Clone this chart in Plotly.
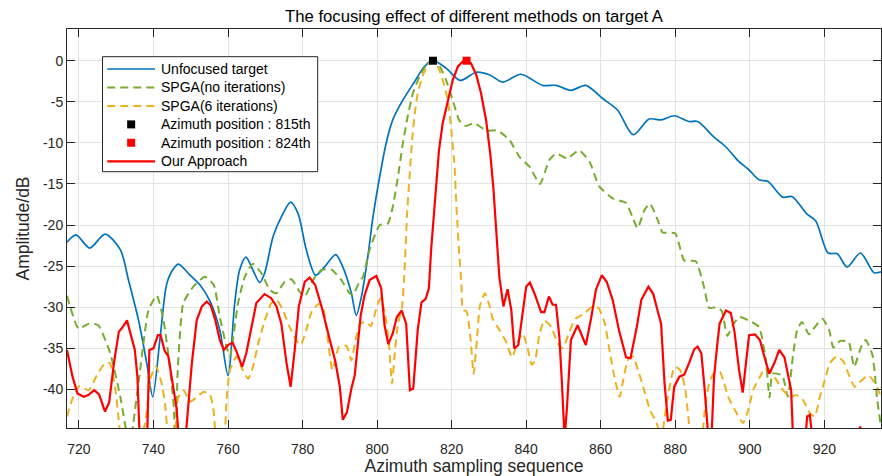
import plotly.graph_objects as go

# ---- data -------------------------------------------------------------
unfocused_x = [716.8, 719.2, 722.9, 727.0, 731.1, 733.3, 736.0, 738.2, 739.8, 741.8,
               743.6, 745.4, 746.7, 749.8, 752.5, 755.2, 757.8, 760.0, 761.8, 763.1,
               764.8, 766.7, 768.5, 769.8, 772.1, 774.3, 776.8, 778.8, 781.0, 783.5,
               785.9, 788.9, 790.8, 793.1, 794.4, 795.8, 797.5, 798.9, 800.7, 802.4,
               804.2, 806.9, 810.0, 812.7, 815.0, 818.5, 822.3, 826.6, 830.1, 833.7,
               838.6, 844.4, 848.0, 852.0, 856.0, 860.5, 864.5, 868.7, 873.0, 876.2,
               879.7, 883.7, 886.0, 890.4, 893.6, 896.9, 899.8, 902.5, 904.9, 908.8,
               911.4, 915.2, 917.7, 921.0, 923.5, 926.1, 929.7, 933.3, 935.2]
unfocused_db = [-22.1, -21.2, -22.8, -21.1, -23.0, -26.7, -31.6, -36.8, -40.9, -33.6,
                -27.1, -25.3, -24.75, -26.1, -27.3, -29.3, -32.8, -38.3, -29.5, -25.5,
                -23.9, -25.5, -27.0, -25.9, -21.4, -19.0, -17.2, -18.6, -23.0, -26.1,
                -25.1, -23.6, -25.1, -28.3, -31.0, -28.7, -23.9, -19.0, -14.1, -10.1,
                -7.2, -4.8, -2.6, -0.7, 0.0, -0.9, -2.4, -1.4, -1.7, -2.6,
                -1.65, -3.0, -3.0, -3.6, -3.0, -4.6, -6.0, -9.0, -7.1, -7.2,
                -6.7, -7.4, -7.4, -9.3, -10.5, -12.2, -13.3, -14.5, -14.7, -16.6,
                -16.55, -18.6, -19.5, -23.4, -23.5, -25.1, -23.4, -25.8, -25.7]

spga0_x = [716.8, 719.9, 722.6, 725.2, 728.4, 731.1, 733.6, 734.6, 736.4, 738.7,
           740.9, 742.7, 744.5, 745.4, 745.9, 746.5, 748.0, 750.7, 753.8, 756.2,
           757.8, 759.6, 760.5, 762.7, 764.5, 766.7, 769.0, 771.2, 773.0, 775.2,
           777.0, 779.2, 780.6, 782.8, 785.0, 787.7, 790.4, 792.6, 793.5, 795.3,
           796.2, 798.0, 800.7, 802.9, 804.2, 805.6, 806.9, 808.2, 809.6, 811.4,
           813.6, 815.0, 816.8, 818.5, 820.3, 822.1, 823.9, 826.0, 829.3, 832.4,
           835.5, 838.2, 840.9, 843.7, 846.2, 848.0, 851.0, 854.2, 857.0, 859.6,
           863.2, 866.8, 868.5, 869.9, 871.7, 873.2, 875.3, 876.6, 880.0, 882.4,
           885.5, 887.7, 889.1, 890.9, 892.4, 894.0, 895.4, 897.2, 900.5, 902.5,
           904.3, 905.3, 906.1, 908.7, 910.2, 911.6, 912.7, 914.0, 915.9, 917.5,
           919.5, 921.3, 922.4, 924.2, 926.5, 928.0, 929.9, 931.1, 932.9, 934.2,
           935.2]
spga0_db = [-28.6, -32.6, -32.0, -32.2, -35.6, -40.9, -47.0, -44.1, -37.7, -30.3,
            -28.6, -31.6, -37.7, -41.7, -47.0, -37.7, -29.5, -27.5, -26.3, -27.3,
            -31.2, -34.8, -36.0, -29.5, -26.3, -24.7, -25.9, -27.9, -28.3, -26.9,
            -26.6, -28.1, -28.7, -26.7, -25.5, -25.4, -26.7, -28.3, -28.5, -26.9,
            -26.3, -23.0, -20.0, -19.8, -17.8, -14.1, -10.1, -6.8, -4.0, -1.9,
            -0.3, 0.0, -0.7, -2.35, -4.8, -7.3, -7.95, -7.6, -8.5, -8.5,
            -9.65, -11.7, -12.9, -15.0, -12.1, -11.3, -11.9, -10.9, -12.3, -15.3,
            -16.75, -17.3, -19.0, -20.4, -18.2, -17.4, -19.4, -20.9, -21.0, -24.3,
            -24.4, -27.5, -30.1, -30.0, -30.4, -33.5, -32.2, -31.2, -31.8, -32.4,
            -36.4, -41.0, -38.1, -38.3, -40.9, -35.8, -32.8, -31.8, -33.3, -32.4,
            -31.4, -32.8, -34.9, -34.1, -34.2, -37.25, -34.8, -34.0, -35.8, -41.3,
            -44.6]

spga6_x = [716.8, 718.3, 720.1, 722.6, 724.8, 727.0, 728.3, 729.7, 730.6, 731.5,
           734.0, 737.8, 739.3, 740.7, 742.2, 743.1, 744.2, 745.6, 746.6, 748.1,
           749.8, 751.5, 753.5, 755.2, 756.1, 757.0, 758.8, 759.6, 760.5, 762.3,
           764.0, 765.4, 766.7, 768.1, 769.9, 771.6, 773.0, 774.7, 776.5, 778.3,
           779.5, 781.0, 782.5, 784.3, 785.5, 786.6, 788.0, 789.8, 791.8, 793.1,
           794.2, 795.5, 797.0, 798.3, 800.0, 800.9, 802.2, 803.2, 804.0, 804.7,
           805.6, 806.7, 807.4, 808.0, 808.7, 809.4, 810.0, 810.9, 812.3, 814.1,
           815.0, 816.3, 817.6, 819.0, 819.9, 820.8, 821.2, 821.6, 822.1, 822.6,
           823.0, 824.0, 825.0, 825.9, 826.8, 827.6, 828.9, 830.1, 831.0, 832.6,
           834.6, 836.2, 837.6, 839.1, 840.4, 841.5, 842.4, 843.5, 844.9, 846.7,
           848.5, 849.8, 851.6, 853.2, 855.5, 857.5, 859.4, 861.0, 862.5, 863.9,
           865.1, 866.1, 867.3, 868.7, 870.0, 871.4, 873.2, 875.0, 876.2, 877.7,
           879.0, 879.9, 881.3, 882.6, 883.5, 884.5, 887.0, 888.0, 889.3, 890.7,
           892.0, 892.9, 894.2, 896.0, 898.2, 899.6, 900.9, 902.7, 904.0, 905.4,
           907.2, 908.9, 910.7, 912.5, 914.3, 916.1, 917.4, 918.8, 920.1, 921.5,
           923.3, 925.1, 926.8, 928.2, 930.0, 931.8, 933.1, 934.5, 935.2]
spga6_db = [-43.3, -41.1, -39.6, -40.1, -38.3, -36.8, -36.8, -39.7, -43.3, -47.0,
            -50.0, -44.0, -38.5, -37.2, -39.3, -41.7, -46.0, -46.0, -41.0, -40.1,
            -41.5, -41.0, -40.3, -40.7, -42.5, -46.0, -46.0, -41.3, -37.7, -36.0,
            -37.7, -38.7, -37.25, -34.4, -31.6, -29.5, -29.1, -30.3, -32.4, -34.0,
            -34.6, -32.8, -30.5, -29.6, -30.0, -33.2, -37.65, -34.8, -34.7, -36.5,
            -34.0, -32.0, -31.8, -32.3, -29.8, -28.9, -30.9, -34.5, -39.3, -35.8,
            -32.0, -30.0, -25.1, -19.0, -14.1, -9.65, -6.8, -4.0, -1.7, -0.3,
            0.0, -0.7, -2.35, -4.8, -8.4, -12.9, -17.0, -20.2, -23.9, -27.1,
            -30.3, -30.5, -33.5, -38.1, -33.8, -29.8, -28.3, -29.7, -31.4, -32.6,
            -34.2, -36.1, -34.4, -33.2, -35.0, -37.0, -36.5, -33.4, -31.6, -32.4,
            -34.4, -35.0, -33.0, -31.4, -30.8, -30.0, -30.1, -31.8, -35.6, -39.0,
            -40.9, -38.7, -36.4, -36.0, -37.65, -39.7, -42.5, -44.1, -46.0, -41.7,
            -38.5, -37.25, -37.65, -39.7, -43.3, -47.0, -46.0, -42.1, -38.9, -37.9,
            -37.9, -38.9, -40.9, -42.5, -44.1, -42.5, -40.1, -38.5, -37.45, -37.65,
            -38.9, -40.1, -40.9, -40.7, -41.3, -42.9, -43.3, -40.9, -38.9, -36.8,
            -36.0, -36.6, -38.5, -39.7, -38.9, -38.3, -38.9, -40.1, -41.0]

ours_x = [716.8, 718.2, 719.6, 721.3, 722.5, 724.1, 725.4, 727.0, 728.1, 729.4,
          730.7, 731.6, 732.9, 733.9, 735.0, 735.7, 736.3, 738.3, 738.9, 740.0,
          741.2, 741.9, 743.0, 744.0, 745.2, 746.2, 746.8, 748.6, 750.3, 751.6,
          753.0, 754.3, 755.4, 756.6, 757.8, 758.9, 760.0, 761.2, 762.3, 763.8,
          764.9, 766.3, 767.6, 769.8, 771.6, 773.0, 774.3, 775.7, 776.8, 777.9,
          779.0, 780.6, 781.9, 783.4, 785.2, 787.0, 788.8, 790.0, 790.8, 791.9,
          793.1, 794.0, 794.9, 795.6, 796.6, 798.0, 799.8, 801.1, 802.0, 803.0,
          804.2, 805.3, 806.6, 807.8, 808.8, 809.7, 810.9, 811.9, 813.0, 813.9,
          814.5, 815.3, 816.0, 816.6, 817.6, 819.0, 820.3, 821.7, 823.0, 824.0,
          825.2, 826.6, 827.9, 829.3, 830.4, 831.2, 831.9, 832.8, 833.9, 835.0,
          836.0, 836.8, 837.9, 839.1, 840.0, 841.0, 842.2, 844.0, 844.9, 846.1,
          847.1, 848.0, 848.9, 849.6, 850.3, 850.9, 852.0, 853.8, 855.0, 856.0,
          857.4, 858.7, 860.3, 861.6, 863.2, 865.0, 866.8, 868.0, 869.6, 870.9,
          872.8, 874.1, 875.3, 876.2, 877.1, 878.0, 878.8, 879.7, 881.1, 882.4,
          883.7, 885.1, 886.0, 887.0, 887.9, 888.6, 888.9, 889.8, 890.4, 891.3,
          891.9, 893.6, 894.9, 895.9, 897.1, 898.1, 898.9, 899.8, 901.4, 902.7,
          903.9, 905.2, 906.6, 907.9, 909.3, 910.5, 911.1, 911.6, 914.9, 915.4,
          916.1, 916.8, 929.0, 929.6, 930.2, 935.2]
ours_db = [-35.2, -38.3, -40.5, -40.9, -40.7, -40.1, -40.6, -42.7, -41.6, -36.8,
           -33.0, -32.5, -31.6, -33.2, -35.2, -38.5, -46.0, -46.0, -35.2, -35.0,
           -33.4, -33.4, -35.3, -36.0, -39.3, -42.3, -46.0, -46.0, -36.8, -31.6,
           -29.9, -29.3, -29.8, -31.6, -34.0, -35.2, -34.6, -34.3, -35.4, -37.25,
           -35.6, -32.4, -29.5, -28.4, -28.9, -29.9, -32.0, -36.8, -39.7, -35.2,
           -29.9, -26.9, -26.4, -27.3, -30.1, -33.4, -36.6, -39.7, -43.7, -42.8,
           -39.9, -38.3, -34.0, -31.0, -28.6, -26.7, -26.2, -27.7, -32.2, -34.5,
           -33.2, -31.2, -30.4, -32.0, -40.1, -39.9, -32.8, -29.4, -29.0, -27.7,
           -23.0, -18.5, -14.1, -10.9, -7.6, -4.8, -2.35, -0.7, -0.1, 0.0,
           -0.3, -1.7, -4.0, -7.4, -11.5, -15.5, -19.8, -26.3, -29.9, -27.8,
           -30.3, -35.0, -34.6, -30.3, -27.5, -27.0, -28.3, -30.6, -30.6, -28.7,
           -29.7, -29.7, -33.6, -39.3, -46.0, -42.5, -34.0, -32.2, -33.6, -34.6,
           -31.4, -27.9, -26.1, -26.9, -29.1, -33.0, -36.1, -36.2, -32.6, -29.1,
           -27.5, -28.4, -30.5, -32.0, -39.1, -43.8, -43.7, -39.7, -38.45, -38.2,
           -36.8, -35.1, -34.8, -35.6, -40.1, -44.5, -46.0, -45.0, -38.5, -34.4,
           -32.0, -30.4, -30.7, -33.0, -37.6, -40.4, -37.0, -33.4, -33.3, -34.0,
           -36.0, -38.1, -36.8, -35.2, -36.1, -38.7, -40.1, -46.0, -46.0, -43.3,
           -43.1, -46.0, -46.0, -44.5, -46.0, -46.0]

peak_815 = (815, 0.0)
peak_824 = (824, 0.0)

x_ticks = [720, 740, 760, 780, 800, 820, 840, 860, 880, 900, 920]
y_ticks = [0, -5, -10, -15, -20, -25, -30, -35, -40]
y_tick_text = ["0", "-5", "-10", "-15", "-20", "-25", "-30", "-35", "-40"]

legend_labels = ["Unfocused target", "SPGA(no iterations)", "SPGA(6 iterations)",
                 "Azimuth position : 815th", "Azimuth position : 824th", "Our Approach"]

# ---- styles -----------------------------------------------------------
FONT = "Liberation Sans, Arial, sans-serif"
AX = "#262626"
BLUE, GREEN, YELLOW, RED = "#0072BD", "#77AC30", "#EDB120", "#FF0000"
DASH = "8px,5px"

W, H = 882, 476
M = dict(l=67, r=1, t=29, b=48)
PW, PH = W - M["l"] - M["r"], H - M["t"] - M["b"]


def px(xp):
    """pixel column -> paper x"""
    return (xp - M["l"]) / PW


def py(yp):
    """pixel row -> paper y"""
    return (H - M["b"] - yp) / PH


fig = go.Figure()
fig.add_trace(go.Scatter(x=unfocused_x, y=unfocused_db, mode="lines",
                         name=legend_labels[0],
                         line=dict(color=BLUE, width=1.7, shape="spline", smoothing=0.8)))
fig.add_trace(go.Scatter(x=spga0_x, y=spga0_db, mode="lines",
                         name=legend_labels[1],
                         line=dict(color=GREEN, width=2, dash=DASH,
                                   shape="spline", smoothing=0.5)))
fig.add_trace(go.Scatter(x=spga6_x, y=spga6_db, mode="lines",
                         name=legend_labels[2],
                         line=dict(color=YELLOW, width=2, dash=DASH,
                                   shape="spline", smoothing=0.5)))
fig.add_trace(go.Scatter(x=[peak_815[0]], y=[peak_815[1]], mode="markers",
                         name=legend_labels[3],
                         marker=dict(symbol="square", size=8, color="black")))
fig.add_trace(go.Scatter(x=[peak_824[0]], y=[peak_824[1]], mode="markers",
                         name=legend_labels[4],
                         marker=dict(symbol="square", size=8, color=RED)))
fig.add_trace(go.Scatter(x=ours_x, y=ours_db, mode="lines",
                         name=legend_labels[5],
                         line=dict(color=RED, width=2.2)))

# ---- legend box (drawn in paper space, MATLAB-style) -------------------
box = dict(x0=102.5, x1=317.7, y0=56.7, y1=171.7)
row_y = [69.0, 87.5, 106.0, 124.4, 142.8, 161.3]
sample_x0, sample_x1, text_x = 107.3, 155.0, 159.3
styles = [("line", BLUE, "solid", 1.7), ("line", GREEN, DASH, 2),
          ("line", YELLOW, DASH, 2), ("square", "black", None, None),
          ("square", RED, None, None), ("line", RED, "solid", 2.2)]

shapes = [dict(type="rect", xref="paper", yref="paper",
               x0=px(box["x0"]), x1=px(box["x1"]), y0=py(box["y1"]), y1=py(box["y0"]),
               line=dict(color=AX, width=1), fillcolor="white", layer="above")]
annotations = []
for label, yy, (kind, col, dash, wid) in zip(legend_labels, row_y, styles):
    if kind == "line":
        shapes.append(dict(type="line", xref="paper", yref="paper",
                           x0=px(sample_x0), x1=px(sample_x1), y0=py(yy), y1=py(yy),
                           line=dict(color=col, width=wid, dash=dash), layer="above"))
    else:
        cx = (sample_x0 + sample_x1) / 2
        shapes.append(dict(type="rect", xref="paper", yref="paper",
                           x0=px(cx - 4), x1=px(cx + 4), y0=py(yy + 4), y1=py(yy - 4),
                           line=dict(width=0), fillcolor=col, layer="above"))
    annotations.append(dict(text=label, xref="paper", yref="paper",
                            x=px(text_x), y=py(yy), xanchor="left", yanchor="middle",
                            showarrow=False,
                            font=dict(family=FONT, size=14, color="black")))

fig.update_layout(
    width=W, height=H,
    margin=M,
    paper_bgcolor="white", plot_bgcolor="white",
    font=dict(family=FONT, size=14, color=AX),
    title=dict(text="The focusing effect of different methods on target A",
               x=0.5, xref="paper", xanchor="center",
               y=1 - 16 / H, yref="container", yanchor="middle",
               font=dict(family=FONT, size=16.7, color="black")),
    showlegend=False,
    shapes=shapes,
    annotations=annotations,
)
fig.update_xaxes(range=[716.8, 935.2], tickvals=x_ticks,
                 ticks="inside", ticklen=8, tickcolor=AX, ticklabelstandoff=8,
                 showline=True, linecolor=AX, linewidth=1, mirror="ticks",
                 showgrid=True, gridcolor="#E3E3E3", gridwidth=1, zeroline=False,
                 tickfont=dict(size=14, color=AX),
                 title=dict(text="Azimuth sampling sequence", standoff=3,
                            font=dict(size=17.5, color=AX)))
fig.update_yaxes(range=[-44.7, 3.86], tickvals=y_ticks, ticktext=y_tick_text,
                 ticks="inside", ticklen=8, tickcolor=AX,
                 showline=True, linecolor=AX, linewidth=1, mirror="ticks",
                 showgrid=True, gridcolor="#E3E3E3", gridwidth=1, zeroline=False,
                 tickfont=dict(size=14, color=AX),
                 title=dict(text="Amplitude/dB", standoff=8,
                            font=dict(size=17.5, color=AX)))

fig.write_html("out.html")
